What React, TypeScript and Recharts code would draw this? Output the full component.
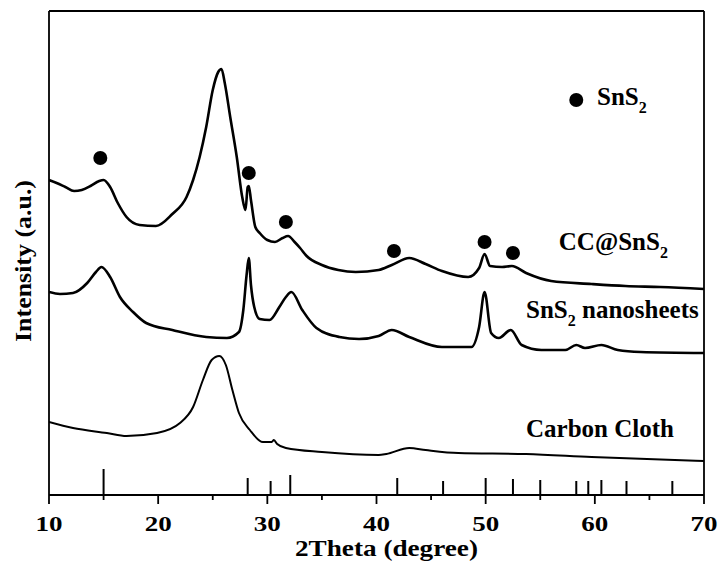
import React from "react";
import {
  ComposedChart,
  Line,
  Scatter,
  XAxis,
  YAxis,
  ReferenceLine,
} from "recharts";

// 2Theta positions and intensities (arbitrary units)
const ccX = [10.0, 10.7, 11.5, 12.3, 13.0, 13.8, 14.6, 15.0, 15.6, 16.3, 17.1, 18.3, 19.8, 21.3, 22.6, 23.2, 23.8, 24.4, 25.0, 25.5, 25.8, 26.1, 26.6, 27.2, 27.7, 28.0, 28.2, 28.3, 28.5, 28.9, 29.3, 30.0, 30.7, 31.4, 31.9, 32.5, 33.0, 33.6, 35.0, 36.5, 38.1, 40.2, 41.4, 43.0, 44.5, 46.0, 48.4, 49.4, 49.9, 50.4, 51.5, 52.4, 53.7, 56.0, 59.7, 62.8, 66.0, 70.0];
const ccY = [315, 312, 308, 304, 305, 309, 314, 315, 308, 292, 278, 270, 269, 281, 298, 315, 338, 368, 405, 423, 426, 412, 378, 338, 298, 285, 308, 309, 295, 268, 262, 255, 253, 257, 259, 253, 247, 239, 230, 225, 223, 225, 230, 237, 231, 224, 218, 227, 241, 229, 228, 229, 222, 214, 211, 209, 208, 206];

const nsX = [10.0, 11.0, 12.2, 13.5, 14.3, 14.8, 15.6, 16.5, 17.7, 18.9, 21.3, 24.4, 26.3, 27.4, 27.8, 28.1, 28.3, 28.5, 28.8, 29.3, 30.2, 31.1, 31.7, 32.2, 33.2, 34.5, 36.6, 38.4, 40.2, 41.4, 43.0, 46.0, 48.7, 49.4, 49.9, 50.5, 51.2, 52.3, 53.3, 55.1, 57.3, 58.3, 59.1, 60.6, 62.1, 64.2, 70.0];
const nsY = [203, 201, 202, 212, 223, 228, 218, 198, 183, 172, 165, 158, 157, 163, 185, 220, 237, 210, 188, 176, 175, 188, 198, 203, 185, 167, 158, 156, 159, 165, 158, 148, 148, 168, 203, 162, 157, 165, 150, 145, 145, 150, 147, 150, 145, 143, 142];

const clothX = [10.0, 12.2, 15.3, 17.1, 19.9, 22.0, 23.2, 24.1, 24.9, 25.6, 26.2, 26.8, 27.4, 28.4, 29.6, 30.4, 30.6, 30.9, 31.7, 35.0, 40.2, 40.9, 43.0, 44.5, 47.5, 53.7, 59.7, 70.0];
const clothY = [73, 67, 62, 59, 62, 72, 88, 115, 135, 139, 130, 105, 82, 65, 53, 53, 55, 51, 47, 43, 40, 41, 47, 45, 42, 41, 38, 34];

// standard SnS2 reflections
const stickX = [15.0, 28.2, 30.3, 32.1, 41.9, 46.1, 50.0, 52.5, 55.0, 58.3, 59.4, 60.6, 62.9, 67.1];
const stickH = [26, 17, 14, 20, 17, 14, 17, 16, 15, 14, 14, 15, 14, 14];

const dotX = [14.7, 28.3, 31.7, 41.6, 49.9, 52.5];
const dotY = [337, 322, 273, 244, 253, 242];

const xTicks = [10, 15, 20, 25, 30, 35, 40, 45, 50, 55, 60, 65, 70];

const FONT = "'Liberation Serif', 'Times New Roman', serif";

const zip = (xs: number[], ys: number[]) => xs.map((x, i) => ({ x, y: ys[i] }));

const ccData = zip(ccX, ccY);
const nsData = zip(nsX, nsY);
const clothData = zip(clothX, clothY);
const dotData = zip(dotX, dotY);
const legendDot = [{ x: 58.3, y: 395 }];

const labels = [
  { x: 60.2, y: 390, pre: "SnS", sub: "2", post: "" },
  { x: 56.7, y: 245, pre: "CC@SnS", sub: "2", post: "" },
  { x: 53.7, y: 177, pre: "SnS", sub: "2", post: " nanosheets" },
  { x: 53.7, y: 58, pre: "Carbon Cloth", sub: "", post: "" },
];

function XTick(props: any) {
  const { x, y, payload } = props;
  const major = payload.value % 10 === 0;
  return (
    <g>
      <line x1={x} x2={x} y1={y} y2={y + (major ? 9 : 5)} stroke="#000" strokeWidth={1.8} />
      {major && (
        <text
          x={x}
          y={y + 36}
          textAnchor="middle"
          fontFamily={FONT}
          fontWeight="bold"
          fontSize={22}
          textLength={27}
          lengthAdjust="spacingAndGlyphs"
          fill="#000"
        >
          {payload.value}
        </text>
      )}
    </g>
  );
}

function Dot(props: any) {
  return <circle cx={props.cx} cy={props.cy} r={7} fill="#000" />;
}

function LabelText(props: any) {
  const { cx, cy, payload } = props;
  return (
    <text x={cx} y={cy} fontFamily={FONT} fontWeight="bold" fontSize={25} fill="#000">
      {payload.pre}
      {payload.sub && (
        <tspan fontSize={16} dy={8}>
          {payload.sub}
        </tspan>
      )}
      {payload.post && <tspan dy={-8}>{payload.post}</tspan>}
    </text>
  );
}

export default function App() {
  return (
    <div style={{ position: "absolute", left: 0, top: 0, background: "#fff" }}>
      <ComposedChart width={720} height={567} margin={{ top: 11, right: 16, bottom: 0, left: 0 }}>
        <XAxis
          type="number"
          dataKey="x"
          domain={[10, 70]}
          ticks={xTicks}
          interval={0}
          allowDataOverflow
          height={72}
          tickSize={0}
          tickMargin={0}
          tickLine={false}
          axisLine={{ stroke: "#000", strokeWidth: 1.8 }}
          tick={<XTick />}
          label={{
            content: (p: any) => (
              <text
                x={p.viewBox.x + p.viewBox.width / 2 + 10}
                y={p.viewBox.y + 61}
                textAnchor="middle"
                fontFamily={FONT}
                fontWeight="bold"
                fontSize={24}
                textLength={183}
                lengthAdjust="spacingAndGlyphs"
              >
                2Theta (degree)
              </text>
            ),
          }}
        />
        <YAxis
          type="number"
          dataKey="y"
          domain={[0, 484]}
          allowDataOverflow
          width={49}
          tick={false}
          tickLine={false}
          axisLine={{ stroke: "#000", strokeWidth: 1.8 }}
          label={{
            content: (p: any) => {
              const cx = 31;
              const cy = p.viewBox.y + p.viewBox.height / 2 + 8;
              return (
                <text
                  x={cx}
                  y={cy}
                  transform={`rotate(-90, ${cx}, ${cy})`}
                  textAnchor="middle"
                  fontFamily={FONT}
                  fontWeight="bold"
                  fontSize={24}
                  textLength={162}
                  lengthAdjust="spacingAndGlyphs"
                >
                  Intensity (a.u.)
                </text>
              );
            },
          }}
        />
        <ReferenceLine y={484} stroke="#000" strokeWidth={1.8} />
        <ReferenceLine x={70} stroke="#000" strokeWidth={1.8} />
        {stickX.map((x, i) => (
          <ReferenceLine
            key={x}
            segment={[{ x, y: 0 }, { x, y: stickH[i] }]}
            stroke="#000"
            strokeWidth={2}
          />
        ))}
        <Line data={ccData} dataKey="y" type="monotone" stroke="#000" strokeWidth={2.6} dot={false} isAnimationActive={false} />
        <Line data={nsData} dataKey="y" type="monotone" stroke="#000" strokeWidth={2.6} dot={false} isAnimationActive={false} />
        <Line data={clothData} dataKey="y" type="monotone" stroke="#000" strokeWidth={2} dot={false} isAnimationActive={false} />
        <Scatter data={dotData} dataKey="y" shape={<Dot />} isAnimationActive={false} />
        <Scatter data={legendDot} dataKey="y" shape={<Dot />} isAnimationActive={false} />
        <Scatter data={labels} dataKey="y" shape={<LabelText />} isAnimationActive={false} />
      </ComposedChart>
    </div>
  );
}
